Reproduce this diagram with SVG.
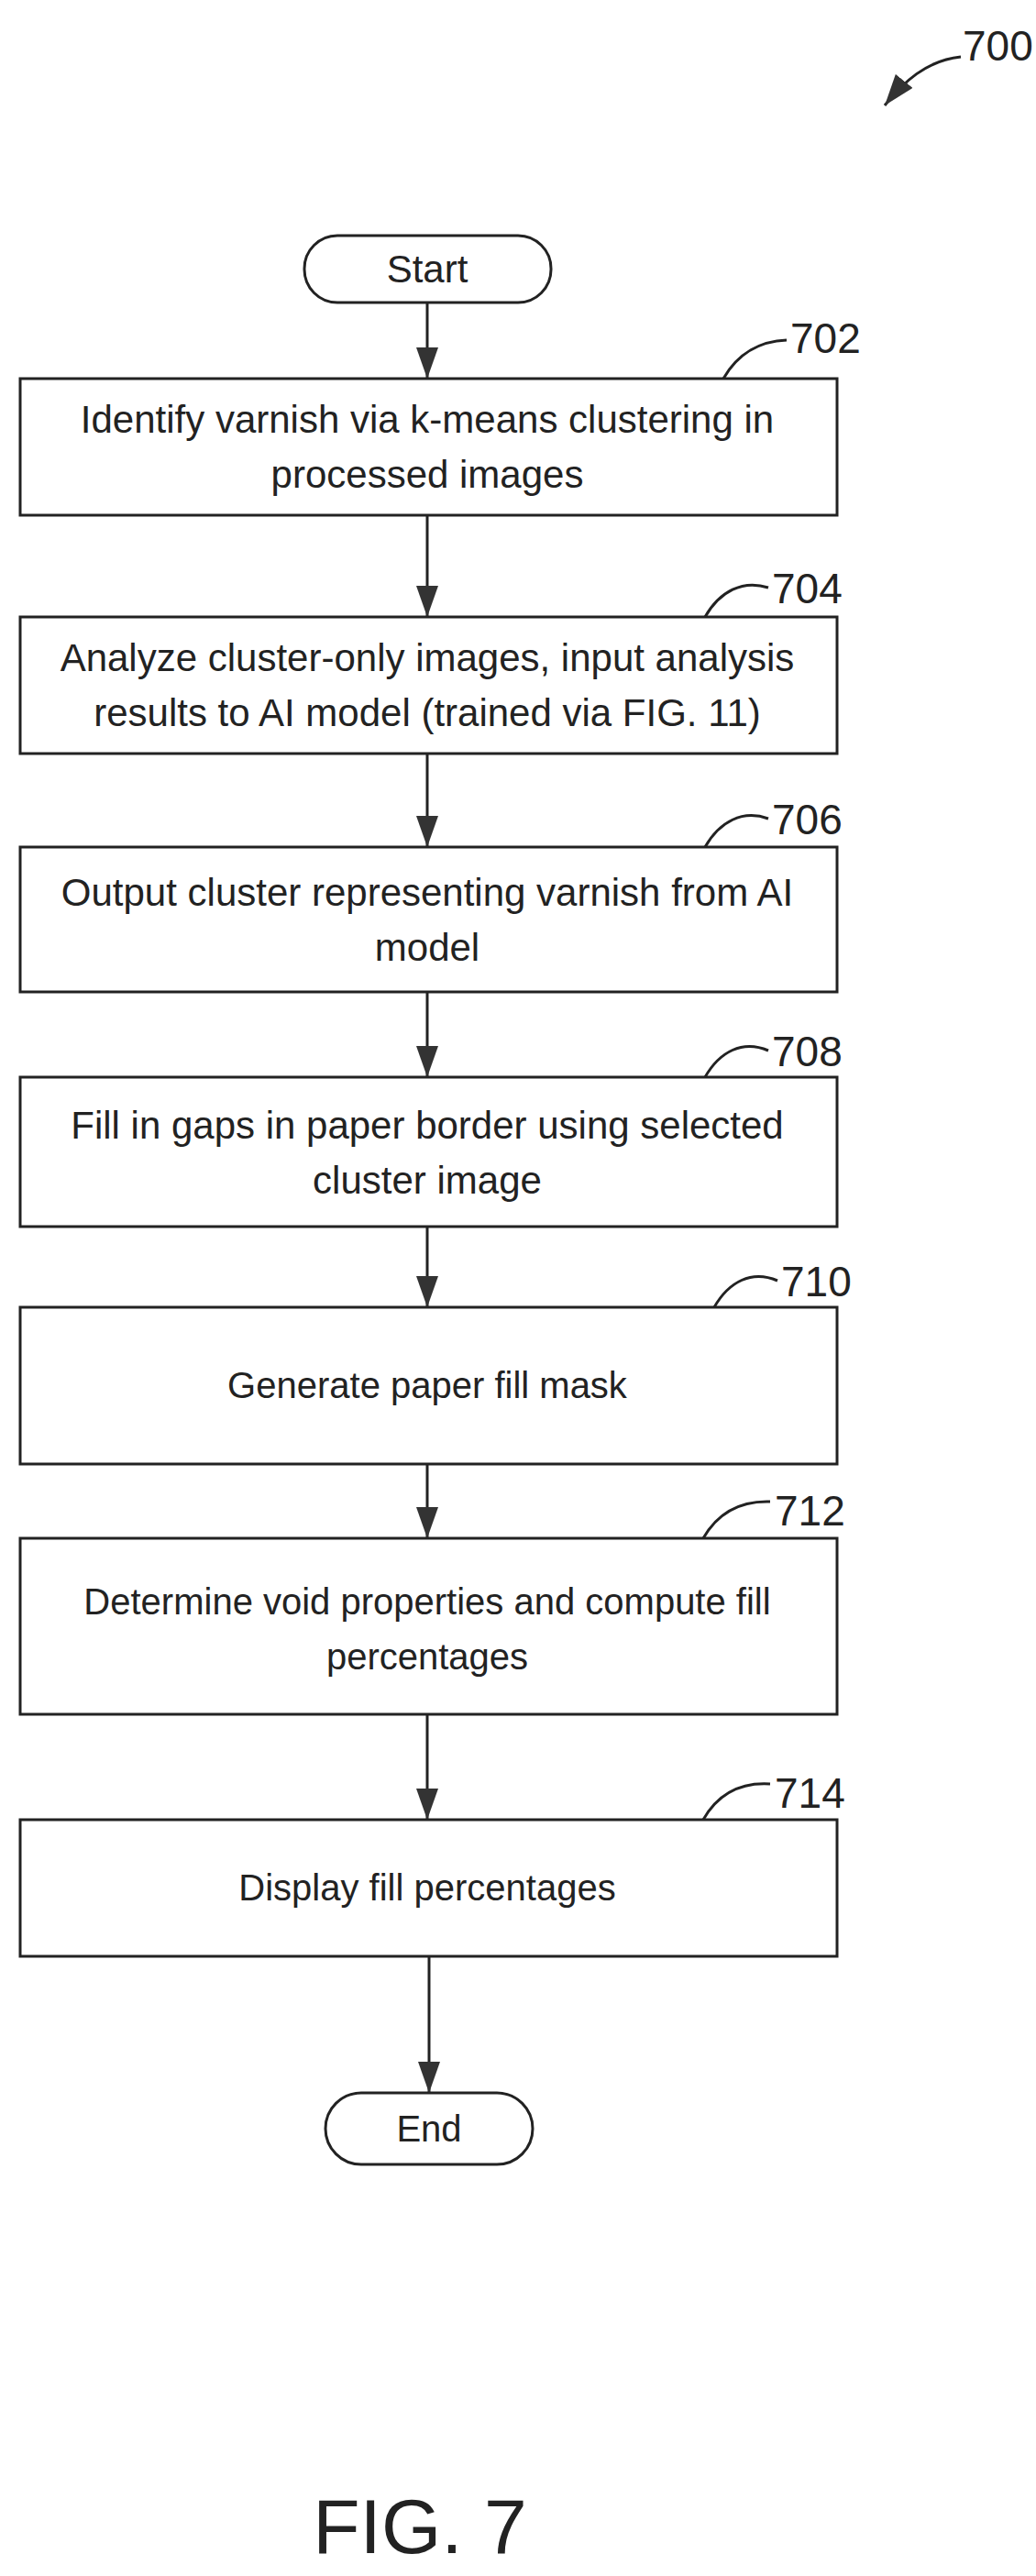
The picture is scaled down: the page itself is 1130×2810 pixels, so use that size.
<svg xmlns="http://www.w3.org/2000/svg" width="1130" height="2810" viewBox="0 0 1130 2810">
<style>
.b{fill:#fff;stroke:#222;stroke-width:3}
.t{font-family:"Liberation Sans Narrow","Liberation Sans",sans-serif;font-size:42px;fill:#222;text-anchor:middle}
.r{font-family:"Liberation Sans",sans-serif;font-size:40px;fill:#222;text-anchor:middle}
.n{font-family:"Liberation Sans Narrow","Liberation Sans",sans-serif;font-size:46px;fill:#222}
.l{fill:none;stroke:#222;stroke-width:3}
</style>
<defs>
<marker id="ah" viewBox="0 0 34 24" refX="34" refY="12" markerWidth="34" markerHeight="24" orient="auto" markerUnits="userSpaceOnUse"><path d="M0,0 L34,12 L0,24 z" fill="#333"/></marker></defs>
<g id="ref700"><text class="n" x="1050" y="66">700</text><path class="l" d="M1048,62 C1010,66 985,90 965,115" marker-end="url(#ah)"/></g>
<g id="start"><rect class="b" x="332" y="257" width="269" height="73" rx="36"/><text class="t" x="466" y="308">Start</text></g>
<g id="n702"><rect class="b" x="22" y="413" width="891" height="149"/><text class="t" x="466" y="472">Identify varnish via k-means clustering in</text><text class="t" x="466" y="532">processed images</text><text class="n" x="862" y="385">702</text><path class="l" d="M789,413 C805,385 830,372 858,371"/></g>
<g id="n704"><rect class="b" x="22" y="673" width="891" height="149"/><text class="t" x="466" y="732">Analyze cluster-only images, input analysis</text><text class="t" x="466" y="792">results to AI model (trained via FIG. 11)</text><text class="n" x="842" y="658">704</text><path class="l" d="M769,673 C785,645 810,632 838,641"/></g>
<g id="n706"><rect class="b" x="22" y="924" width="891" height="158"/><text class="t" x="466" y="988">Output cluster representing varnish from AI</text><text class="t" x="466" y="1048">model</text><text class="n" x="842" y="910">706</text><path class="l" d="M769,924 C785,896 810,883 838,893"/></g>
<g id="n708"><rect class="b" x="22" y="1175" width="891" height="163"/><text class="t" x="466" y="1242">Fill in gaps in paper border using selected</text><text class="t" x="466" y="1302">cluster image</text><text class="n" x="842" y="1163">708</text><path class="l" d="M769,1175 C785,1147 810,1134 838,1146"/></g>
<g id="n710"><rect class="b" x="22" y="1426" width="891" height="171"/><text class="r" x="466" y="1525">Generate paper fill mask</text><text class="n" x="852" y="1414">710</text><path class="l" d="M779,1426 C795,1398 820,1385 848,1397"/></g>
<g id="n712"><rect class="b" x="22" y="1678" width="891" height="192"/><text class="r" x="466" y="1761">Determine void properties and compute fill</text><text class="r" x="466" y="1821">percentages</text><text class="n" x="845" y="1664">712</text><path class="l" d="M767,1678 C783,1650 808,1637 840,1638"/></g>
<g id="n714"><rect class="b" x="22" y="1985" width="891" height="149"/><text class="r" x="466" y="2073">Display fill percentages</text><text class="n" x="845" y="1972">714</text><path class="l" d="M767,1985 C783,1957 808,1944 840,1946"/></g>
<g id="end"><rect class="b" x="355" y="2283" width="226" height="78" rx="39"/><text class="r" x="468" y="2336">End</text></g>
<g id="connectors">
<path class="l" d="M466,330 V413" marker-end="url(#ah)"/>
<path class="l" d="M466,562 V673" marker-end="url(#ah)"/>
<path class="l" d="M466,822 V924" marker-end="url(#ah)"/>
<path class="l" d="M466,1082 V1175" marker-end="url(#ah)"/>
<path class="l" d="M466,1338 V1426" marker-end="url(#ah)"/>
<path class="l" d="M466,1597 V1678" marker-end="url(#ah)"/>
<path class="l" d="M466,1870 V1985" marker-end="url(#ah)"/>
<path class="l" d="M468,2134 V2283" marker-end="url(#ah)"/>
</g>
<text x="458" y="2785" style="font-family:'Liberation Sans',sans-serif;font-size:84px;fill:#222;text-anchor:middle">FIG. 7</text>
</svg>
